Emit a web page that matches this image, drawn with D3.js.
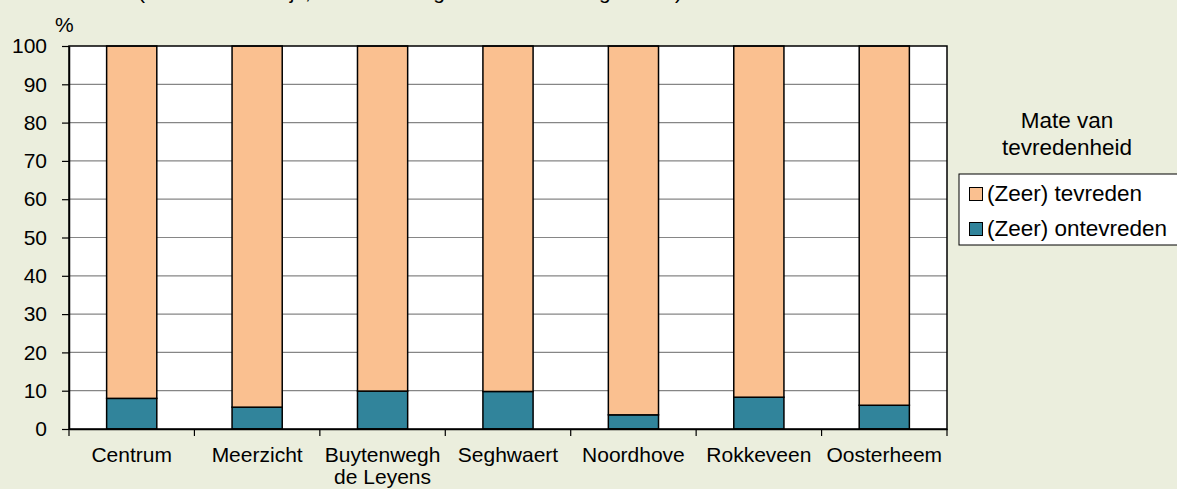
<!DOCTYPE html>
<html>
<head>
<meta charset="utf-8">
<script src="https://cdn.jsdelivr.net/npm/d3@7"></script>
<style>
  html, body { margin: 0; padding: 0; background: #ebeedd; }
  svg { display: block; font-family: "Liberation Sans", Arial, sans-serif; }
</style>
</head>
<body>
<script>
'use strict';

// data
const wijken = ["Centrum", "Meerzicht", "Buytenwegh de Leyens", "Seghwaert",
                "Noordhove", "Rokkeveen", "Oosterheem"];
const ontevreden = [8.0, 5.7, 9.9, 9.8, 3.7, 8.3, 6.2];
const tevreden = [92.0, 94.3, 90.1, 90.2, 96.3, 91.7, 93.8];
const seriesNames = ["(Zeer) tevreden", "(Zeer) ontevreden"];
const yTicks = [0, 10, 20, 30, 40, 50, 60, 70, 80, 90, 100];
const titleText = "(bewoners uit wijk, exclusief de gevallen neutraal getoond)";
const legendTitle = ["Mate van", "tevredenheid"];

const width = 1177, height = 489;
const plot = { left: 69, right: 947, top: 46, bottom: 429 };
const colors = { tevreden: "#fac090", ontevreden: "#31849b" };

const svg = d3.select("body").append("svg")
  .attr("width", width)
  .attr("height", height);

svg.append("rect")
  .attr("width", width)
  .attr("height", height)
  .attr("fill", "#ebeedd");

// title is cut off by the top edge, only the descenders show
svg.append("text")
  .attr("x", 138)
  .attr("y", -1.5)
  .style("font-size", "21px")
  .text(titleText);

// scales
let xScale = d3.scaleBand()
  .domain(wijken)
  .range([plot.left, plot.right])
  .padding(0);

let yScale = d3.scaleLinear()
  .domain([0, 100])
  .range([plot.bottom, plot.top]);

// plot area
svg.append("rect")
  .attr("x", plot.left)
  .attr("y", plot.top)
  .attr("width", plot.right - plot.left)
  .attr("height", plot.bottom - plot.top)
  .attr("fill", "#ffffff");

// gridlines
svg.selectAll(".grid")
  .data(yTicks.slice(1, -1))
  .enter()
  .append("line")
  .attr("class", "grid")
  .attr("x1", plot.left)
  .attr("x2", plot.right)
  .attr("y1", d => yScale(d))
  .attr("y2", d => yScale(d))
  .attr("stroke", "#868686")
  .attr("stroke-width", 1.2);

// stacked bars
let barW = xScale.bandwidth() * 0.4;
let barX = d => xScale(d) + (xScale.bandwidth() - barW) / 2;

svg.selectAll(".bar-on")
  .data(wijken)
  .enter()
  .append("rect")
  .attr("class", "bar-on")
  .attr("x", d => barX(d))
  .attr("y", (d, i) => yScale(ontevreden[i]))
  .attr("width", barW)
  .attr("height", (d, i) => yScale(0) - yScale(ontevreden[i]))
  .attr("fill", colors.ontevreden)
  .attr("stroke", "#000")
  .attr("stroke-width", 1.5);

svg.selectAll(".bar-te")
  .data(wijken)
  .enter()
  .append("rect")
  .attr("class", "bar-te")
  .attr("x", d => barX(d))
  .attr("y", (d, i) => yScale(ontevreden[i] + tevreden[i]))
  .attr("width", barW)
  .attr("height", (d, i) => yScale(ontevreden[i]) - yScale(ontevreden[i] + tevreden[i]))
  .attr("fill", colors.tevreden)
  .attr("stroke", "#000")
  .attr("stroke-width", 1.5);

// plot border
svg.append("rect")
  .attr("x", plot.left)
  .attr("y", plot.top)
  .attr("width", plot.right - plot.left)
  .attr("height", plot.bottom - plot.top)
  .attr("fill", "none")
  .attr("stroke", "#000")
  .attr("stroke-width", 1.5);

// y axis
let yAxis = d3.axisLeft(yScale)
  .tickValues(yTicks)
  .tickSizeInner(7)
  .tickSizeOuter(0)
  .tickPadding(15);

let yG = svg.append("g")
  .attr("transform", `translate(${plot.left},0)`)
  .call(yAxis);
yG.select(".domain").attr("stroke", "#000").attr("stroke-width", 1.5);
yG.selectAll(".tick line").attr("stroke", "#000").attr("stroke-width", 1.2);
yG.selectAll(".tick text")
  .style("font-size", "21px")
  .attr("fill", "#000");

svg.append("text")
  .attr("x", 55)
  .attr("y", 32)
  .style("font-size", "21px")
  .text("%");

// x axis: ticks at the category boundaries
let xAxis = d3.axisBottom(xScale)
  .tickSize(0)
  .tickPadding(18);

let xG = svg.append("g")
  .attr("transform", `translate(0,${plot.bottom})`)
  .call(xAxis);
xG.select(".domain").attr("stroke", "#000").attr("stroke-width", 1.5);
xG.selectAll(".tick text")
  .style("font-size", "21px")
  .attr("fill", "#000")
  .attr("dy", "0.71em")
  .call(wrap, xScale.bandwidth() - 4);

let bounds = wijken.map(d => xScale(d)).concat([xScale.range()[1]]);
svg.selectAll(".xtick")
  .data(bounds)
  .enter()
  .append("line")
  .attr("class", "xtick")
  .attr("x1", d => d)
  .attr("x2", d => d)
  .attr("y1", plot.bottom)
  .attr("y2", plot.bottom + 7)
  .attr("stroke", "#000")
  .attr("stroke-width", 1.2);

// legend
svg.selectAll(".ltitle")
  .data(legendTitle)
  .enter()
  .append("text")
  .attr("class", "ltitle")
  .attr("x", 1067)
  .attr("y", (d, i) => 128 + i * 27)
  .attr("text-anchor", "middle")
  .style("font-size", "22.5px")
  .text(d => d);

svg.append("rect")
  .attr("x", 959)
  .attr("y", 174)
  .attr("width", 240)
  .attr("height", 71)
  .attr("fill", "#fff")
  .attr("stroke", "#000")
  .attr("stroke-width", 1);

let legendColors = [colors.tevreden, colors.ontevreden];
svg.selectAll(".lkey")
  .data(seriesNames)
  .enter()
  .append("rect")
  .attr("class", "lkey")
  .attr("x", 969.5)
  .attr("y", (d, i) => 187.5 + i * 35)
  .attr("width", 13)
  .attr("height", 13)
  .attr("fill", (d, i) => legendColors[i])
  .attr("stroke", "#000")
  .attr("stroke-width", 1);

svg.selectAll(".ltext")
  .data(seriesNames)
  .enter()
  .append("text")
  .attr("class", "ltext")
  .attr("x", 987)
  .attr("y", (d, i) => 201 + i * 35)
  .style("font-size", "22.5px")
  .text(d => d);

// wrap long tick labels over more lines
function wrap(text, w) {
  text.each(function() {
    let t = d3.select(this);
    let words = t.text().split(/\s+/);
    let y = t.attr("y");
    let dy = parseFloat(t.attr("dy"));
    let line = [];
    let tspan = t.text(null).append("tspan").attr("x", 0).attr("y", y).attr("dy", dy + "em");
    let lineNo = 0;
    words.forEach(word => {
      line.push(word);
      tspan.text(line.join(" "));
      if (tspan.node().getComputedTextLength() > w && line.length > 1) {
        line.pop();
        tspan.text(line.join(" "));
        line = [word];
        lineNo++;
        tspan = t.append("tspan").attr("x", 0).attr("y", y)
          .attr("dy", (lineNo * 1.05 + dy) + "em").text(word);
      }
    });
  });
}
</script>
</body>
</html>
